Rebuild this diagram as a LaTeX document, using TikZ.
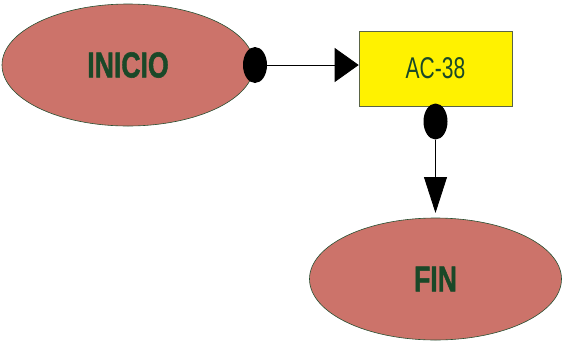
\documentclass[tikz,border=0pt]{standalone}
\usepackage{fontspec}
\setmainfont{Liberation Sans}
\newfontfamily\heavyfont[FakeBold=1.6]{Liberation Sans Bold}
\usetikzlibrary{shapes.geometric,arrows.meta}
\definecolor{terra}{RGB}{204,115,106}
\definecolor{darkgreen}{RGB}{26,72,40}
\definecolor{edgegreen}{RGB}{40,80,50}
\definecolor{boxedge}{RGB}{90,100,70}
\tikzset{
  terminal/.style={ellipse, draw=edgegreen, line width=0.6pt, fill=terra,
    minimum width=252pt, minimum height=122pt, inner sep=0pt},
  termtext/.style={font=\heavyfont\fontsize{36}{36}\selectfont, text=darkgreen, xscale=0.74},
  actbox/.style={rectangle, draw=boxedge, line width=0.6pt, fill=yellow,
    minimum width=153pt, minimum height=75pt, inner sep=0pt},
  knob/.style={ellipse, fill=black, minimum width=24pt, minimum height=36pt, inner sep=0pt},
  flowline/.style={line width=0.8pt}
}
\begin{document}
\begin{tikzpicture}[x=1pt,y=-1pt]
  \useasboundingbox (0,0) rectangle (563,341);
  \node[terminal] (inicio) at (128,65) {};
  \node[termtext] at (inicio.center) {INICIO};
  \node[actbox] (ac) at (435.5,68.5) {};
  \node[font=\fontsize{30}{30}\selectfont, text=darkgreen, xscale=0.7] at (ac.center) {AC-38};
  \node[terminal] (fin) at (435.5,279) {};
  \node[termtext] at (fin.center) {FIN};
  \node[knob] (k1) at (255,65) {};
  \node[knob] (k2) at (435.5,121.5) {};
  \draw[flowline, -{Triangle[length=24pt,width=34pt]}] (k1.east) -- (ac.west |- k1.east);
  \coordinate (finend) at (435.5,213);
  \draw[flowline, -{Triangle[length=36pt,width=23pt]}] (k2.south) -- (finend);
\end{tikzpicture}
\end{document}
